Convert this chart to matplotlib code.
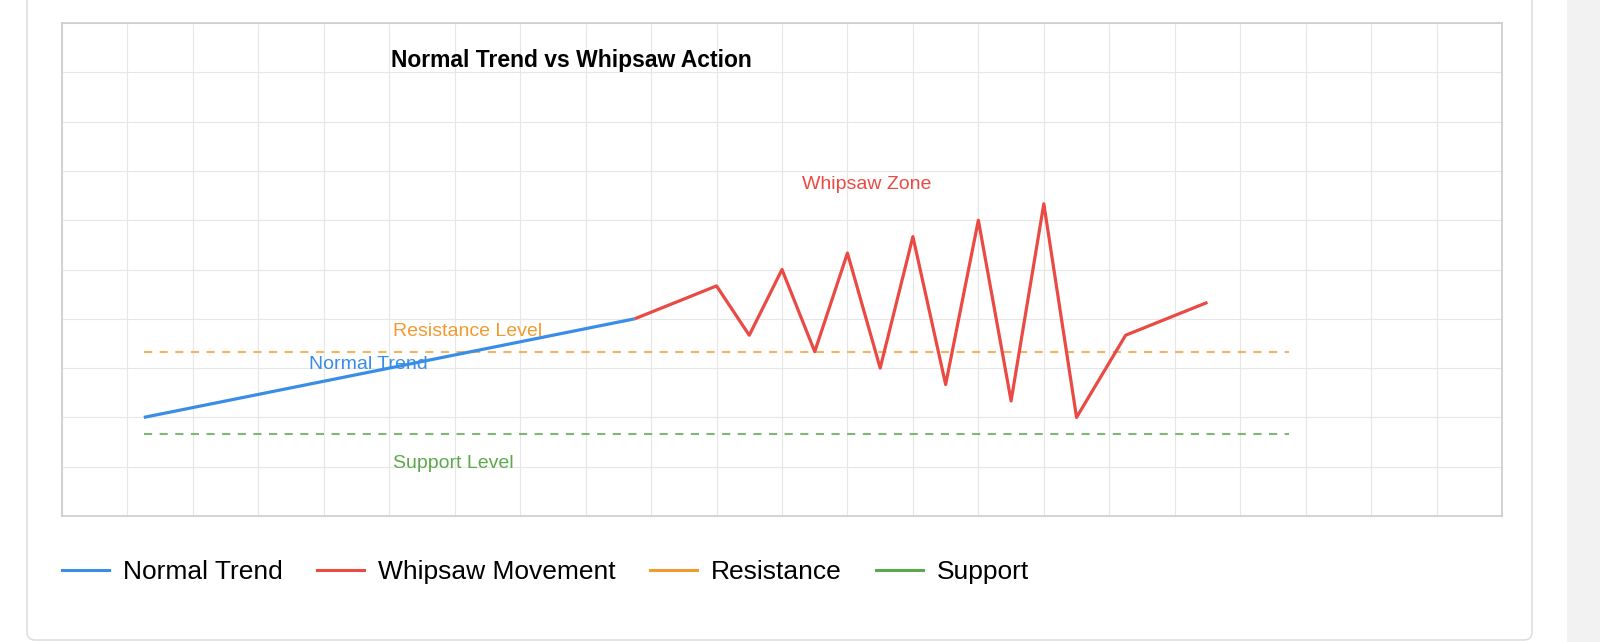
import matplotlib
matplotlib.use('Agg')
import matplotlib.pyplot as plt
from matplotlib.lines import Line2D
from matplotlib.patches import FancyBboxPatch, Rectangle
from matplotlib.transforms import IdentityTransform

plt.rcParams['font.family'] = ['Liberation Sans', 'DejaVu Sans']

# ---- data (x in half-grid steps, y in price steps) ----
trend_x = [2.5, 17.5]
trend_y = [6, 12]

whip_x = [17.5, 20, 21, 22, 23, 24, 25, 26, 27, 28, 29, 30, 31, 32.5, 35]
whip_y = [12, 14, 11, 15, 10, 16, 9, 17, 8, 18, 7, 19, 6, 11, 13]

level_x = [2.5, 37.5]
resistance = 10
support = 5

legend_labels = ['Normal Trend', 'Whipsaw Movement', 'Resistance', 'Support']

blue = '#3a8de6'
red = '#ea4a43'
orange = '#f29a2e'
green = '#5ca94c'

W, H = 1600, 642
fig = plt.figure(figsize=(W / 100, H / 100), dpi=100)

# card background + scrollbar strip
card = FancyBboxPatch((27, 2), 1505, 700, boxstyle='round,pad=0,rounding_size=8',
                      transform=IdentityTransform(), facecolor='white',
                      edgecolor='#dcdcdc', linewidth=1.1, zorder=-2)
fig.patches.append(card)
strip = Rectangle((1567, 0), 33, H, transform=IdentityTransform(),
                  facecolor='#f2f2f2', edgecolor='none', zorder=-2)
fig.patches.append(strip)

ax = fig.add_axes([62 / W, (H - 516) / H, 1440 / W, 493 / H])
ax.set_xlim(0, 44)
ax.set_ylim(0, 30)
ax.set_xticks(range(0, 45, 2))
ax.set_yticks(range(0, 31, 3))
ax.tick_params(length=0, labelbottom=False, labelleft=False)
ax.grid(True, color='#e6e6e6', linewidth=0.8)
ax.set_axisbelow(True)
for s in ax.spines.values():
    s.set_color('#cccccc')
    s.set_linewidth(1.2)

ax.plot(level_x, [resistance, resistance], color=orange, alpha=0.75,
        linewidth=1.5, linestyle=(0, (3.9, 3.6)))
ax.plot(level_x, [support, support], color=green, alpha=0.8,
        linewidth=1.5, linestyle=(0, (3.9, 3.6)))
ax.plot(trend_x, trend_y, color=blue, linewidth=2.3, solid_capstyle='butt')
ax.plot(whip_x, whip_y, color=red, linewidth=2.3, solid_capstyle='butt')

ax.text(10.05, 27.7, 'Normal Trend vs Whipsaw Action', fontsize=16.5,
        fontweight='bold', va='center', ha='left')
ax.text(24.6, 20.15, 'Whipsaw Zone', color=red, fontsize=14, va='center', ha='center')
ax.text(10.1, 11.25, 'Resistance Level', color=orange, fontsize=14, va='center')
ax.text(7.55, 9.2, 'Normal Trend', color=blue, fontsize=14, va='center')
ax.text(10.1, 3.2, 'Support Level', color=green, fontsize=14, va='center')

handles = [Line2D([], [], color=c, linewidth=2.2) for c in (blue, red, orange, green)]
fig.legend(handles, legend_labels, loc='center left',
           bbox_to_anchor=(62 / W, 1 - 572 / H), ncol=4, frameon=False,
           fontsize=19, handlelength=1.78, handletextpad=0.53,
           columnspacing=1.3, borderpad=0, borderaxespad=0)

fig.savefig('out.png', dpi=100)
